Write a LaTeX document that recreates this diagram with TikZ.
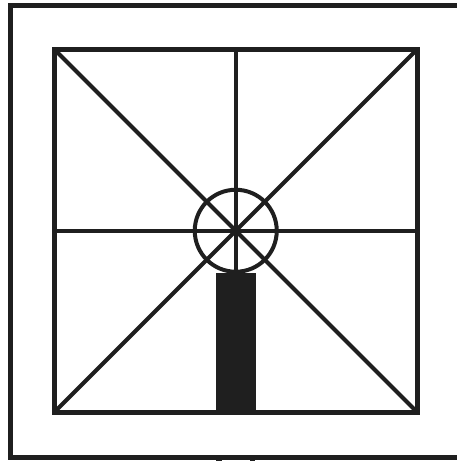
\documentclass[tikz,border=0pt]{standalone}
\begin{document}
\begin{tikzpicture}[x=1pt,y=-1pt,
  frame/.style={line width=5pt,draw=black!88,line join=miter},
  spoke/.style={line width=4pt,draw=black!88,line cap=butt}]
\useasboundingbox (0,0) rectangle (457,461);
\coordinate (TL) at (54.5,49.5);
\coordinate (TR) at (417,49.5);
\coordinate (BL) at (54.5,412);
\coordinate (BR) at (417,412);
\coordinate (C) at (235.75,230.75);
\coordinate (T) at (235.75,49.5);
\coordinate (B) at (235.75,412);
\coordinate (L) at (54.5,230.75);
\coordinate (R) at (417,230.75);
% outer frame (right side outside the picture)
\begin{scope}
\clip (0,0) rectangle (457,461);
\draw[frame] (470,5) -- (10,5) -- (10,457) -- (470,457);
\draw[line width=5.6pt,draw=black!88] (218.8,457) -- (218.8,465);
\draw[line width=5.6pt,draw=black!88] (252.5,457) -- (252.5,465);
\end{scope}
% spokes
\draw[spoke] (TL) -- (BR);
\draw[spoke] (TR) -- (BL);
\draw[spoke] (T) -- (B);
\draw[spoke] (L) -- (R);
\draw[spoke] (C) circle[radius=41];
% bar
\fill[black!88] (216,273) rectangle (255.5,412);
% inner square
\draw[frame] (TL) rectangle (BR);
\end{tikzpicture}
\end{document}
